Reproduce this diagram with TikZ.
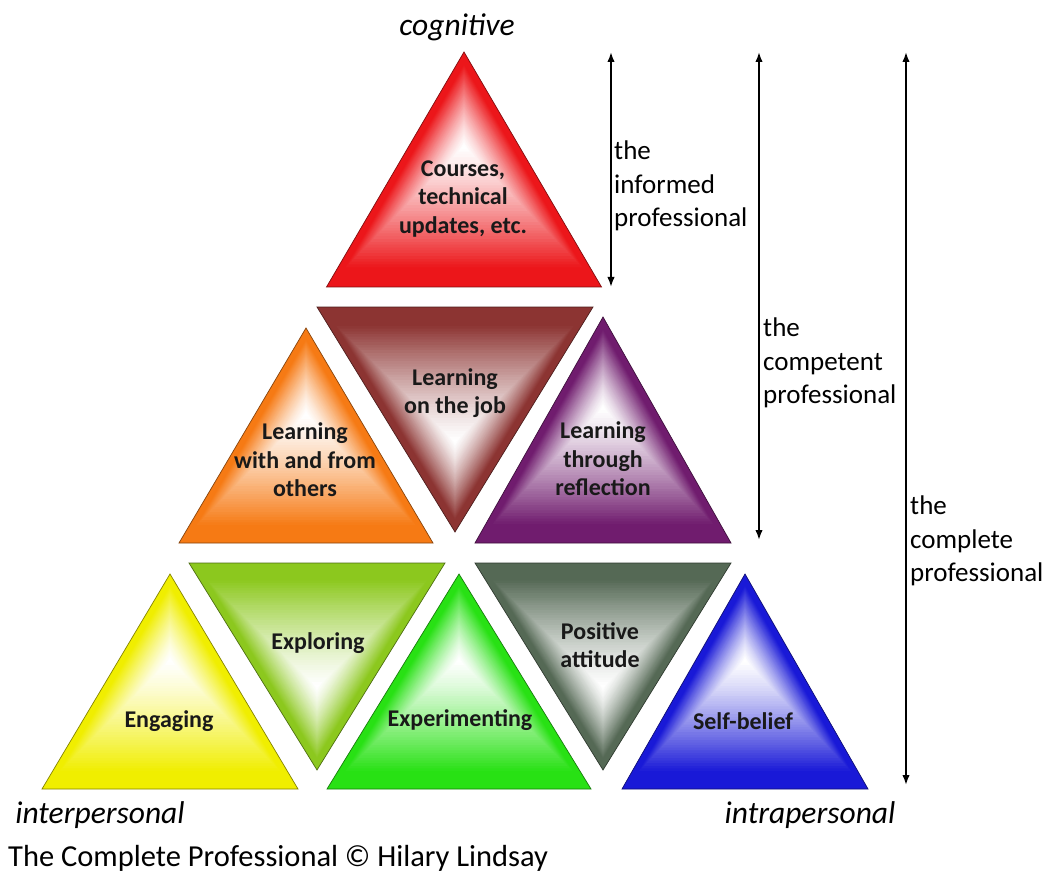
\documentclass[tikz,border=0pt]{standalone}
\usepackage{fontspec}
\setmainfont{Carlito}
\usetikzlibrary{calc,arrows.meta}

\definecolor{tRed}{RGB}{236,22,26}
\definecolor{tBrown}{RGB}{140,52,50}
\definecolor{tOrange}{RGB}{246,122,20}
\definecolor{tPurple}{RGB}{112,28,110}
\definecolor{tYellow}{RGB}{240,238,0}
\definecolor{tLime}{RGB}{140,200,30}
\definecolor{tGreen}{RGB}{40,225,20}
\definecolor{tSlate}{RGB}{85,105,85}
\definecolor{tBlue}{RGB}{25,25,215}

% A triangle filled with a path gradient: full colour at the outline,
% fading to white towards a centre point on its axis.
% #1 name, #2 colour, #3 tip x, #4 tip y, #5 base y, #6 half base width
\newcommand{\shadedtri}[6]{%
  \coordinate (#1-1) at (#3,#4);
  \coordinate (#1-2) at ({#3-#6},#5);
  \coordinate (#1-3) at ({#3+#6},#5);
  \coordinate (#1-c) at (#3,{#4+0.4*(#5-#4)});
  \foreach \k in {0,...,49}{
    \pgfmathsetmacro{\s}{1-\k/50}
    \pgfmathtruncatemacro{\p}{100*min(1,1.15*\s)^1.3}
    \fill[#2!\p!white] ($(#1-c)!\s!(#1-1)$) -- ($(#1-c)!\s!(#1-2)$) -- ($(#1-c)!\s!(#1-3)$) -- cycle;
  }
  \draw[#2!55!black, line width=0.7pt] (#1-1) -- (#1-2) -- (#1-3) -- cycle;
}

\tikzset{
  tritext/.style={font=\bfseries\fontsize{24}{28.5}\selectfont, align=center, inner sep=0pt, text=black!90},
  sidelabel/.style={font=\fontsize{27}{33.5}\selectfont, align=left, anchor=north west, inner sep=0pt},
  cornerlabel/.style={font=\itshape\fontsize{31.5}{36}\selectfont, inner sep=0pt},
  spanarrow/.style={{Latex[length=10pt,width=7.5pt]}-{Latex[length=10pt,width=7.5pt]}, line width=1.9pt}
}

\begin{document}
\begin{tikzpicture}[x=1pt,y=-1pt]
\useasboundingbox[fill=white] (0,0) rectangle (1049,877);

% top row
\shadedtri{courses}{tRed}{464}{52}{287}{137.5}
% middle row
\shadedtri{onjob}{tBrown}{455}{532}{307}{138}
\shadedtri{others}{tOrange}{306}{328}{543}{127}
\shadedtri{reflect}{tPurple}{603}{317}{543}{128}
% bottom row
\shadedtri{engage}{tYellow}{170}{574}{789}{128}
\shadedtri{explore}{tLime}{317}{770}{563}{128}
\shadedtri{experiment}{tGreen}{459}{574}{789}{132}
\shadedtri{attitude}{tSlate}{603}{770}{563}{128}
\shadedtri{belief}{tBlue}{745}{574}{789}{123}

% labels inside the triangles
\node[tritext] (t-courses) at (463,199) {Courses,\\technical\\updates, etc.};
\node[tritext] (t-onjob) at (455,393) {Learning\\on the job};
\node[tritext] (t-others) at (305,460) {Learning\\with and from\\others};
\node[tritext] (t-reflect) at (603,459) {Learning\\through\\reflection};
\node[tritext] (t-engage) at (169,721) {Engaging};
\node[tritext] (t-explore) at (318,643) {Exploring};
\node[tritext] (t-experiment) at (460,720) {Experimenting};
\node[tritext] (t-attitude) at (600,645) {Positive\\attitude};
\node[tritext] (t-belief) at (743,721) {Self-belief};

% corner captions
\node[cornerlabel] (cognitive) at (457,27) {cognitive};
\node[cornerlabel] (inter) at (100,815) {interpersonal};
\node[cornerlabel] (intra) at (810,815) {intrapersonal};

% span arrows
\coordinate (inf-top) at (611,52);
\coordinate (inf-bot) at (611,287);
\coordinate (comp-top) at (759,52);
\coordinate (comp-bot) at (759,540);
\coordinate (all-top) at (906,52);
\coordinate (all-bot) at (906,785);
\draw[spanarrow] (inf-top) -- (inf-bot);
\draw[spanarrow] (comp-top) -- (comp-bot);
\draw[spanarrow] (all-top) -- (all-bot);

\node[sidelabel] (informed) at (614,141) {the\\informed\\professional};
\node[sidelabel] (competent) at (763,318) {the\\competent\\professional};
\node[sidelabel] (complete) at (910,496) {the\\complete\\professional};

% credit line
\node[font=\fontsize{30.5}{36}\selectfont, anchor=west, inner sep=0pt] (credit) at (8,858) {The Complete Professional © Hilary Lindsay};
\end{tikzpicture}
\end{document}
